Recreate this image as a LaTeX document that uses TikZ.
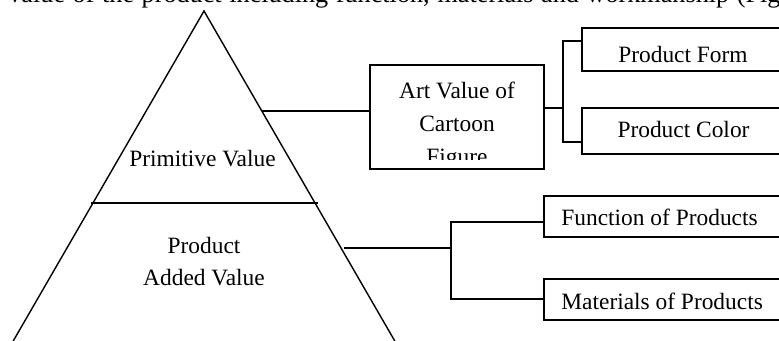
\documentclass[tikz,border=0pt]{standalone}
\usepackage{fontspec}
\setmainfont{Liberation Serif}
\usepackage{tikz}
\usetikzlibrary{positioning}

\tikzset{
  txt/.style={inner sep=0pt, font=\fontsize{11.7}{14}\selectfont},
  boxnode/.style={draw, line width=0.7pt, inner sep=0pt, outer sep=0pt},
  link/.style={line width=0.7pt}
}

\begin{document}
\begin{tikzpicture}[x=0.5pt, y=-0.5pt]
        \useasboundingbox (0,0) rectangle (779,341);
        \clip (0,0) rectangle (779,341);
        % cut-off line of the running text above
        \node[txt, font=\fontsize{13.1}{15}\selectfont, anchor=base west] (toptext) at (8,3) {\makebox[386pt][s]{value of the product including function, materials and workmanship (Fig}};
        % pyramid
        \coordinate (apex) at (204,11);
        \coordinate (botL) at (8,350);
        \coordinate (botR) at (400,350);
        \draw[link] (botL) -- (apex) -- (botR);
        \coordinate (divL) at (91,203);
        \coordinate (divR) at (318,203);
        \draw[link] (divL) -- (divR);
        \node[txt, anchor=base] (prim) at (202.5,167) {Primitive Value};
        \node[txt, anchor=base] (prod1) at (204,253) {Product};
        \node[txt, anchor=base] (prod2) at (204,285) {Added Value};
        % upper branch
        \node[boxnode, minimum width=87pt, minimum height=52pt] (art) at (457,117) {};
        \begin{scope}
          \clip (370,65) rectangle (544,160);
          \node[txt, anchor=base] (art1) at (457,99) {Art Value of};
          \node[txt, anchor=base] (art2) at (457,132) {Cartoon};
          \node[txt, anchor=base] (art3) at (457,165) {Figure};
        \end{scope}
        \node[boxnode, minimum width=104pt, minimum height=21.5pt] (form) at (686,49.5) {};
        \node[txt, anchor=base] (formtxt) at (683,63) {Product Form};
        \node[boxnode, minimum width=104pt, minimum height=23pt] (color) at (686,131) {};
        \node[txt, anchor=base] (colortxt) at (683.5,138) {Product Color};
        \coordinate (pu) at (262,111);
        \coordinate (fu) at (563,108);
        \coordinate (ft) at (563,41);
        \coordinate (fb) at (563,142);
        \draw[link] (pu) -- (pu -| art.west);
        \draw[link] (art.east |- fu) -- (fu);
        \draw[link] (form.west |- ft) -- (ft) -- (fb) -- (fb -| color.west);
        % lower branch
        \node[boxnode, minimum width=123pt, minimum height=20.5pt] (func) at (667,216.5) {};
        \node[txt, anchor=base west] (functxt) at (561,226) {Function of Products};
        \node[boxnode, minimum width=123pt, minimum height=20.5pt] (mat) at (667,299.5) {};
        \node[txt, anchor=base west] (mattxt) at (561,309) {Materials of Products};
        \coordinate (pl) at (344,248);
        \coordinate (fl) at (451,248);
        \coordinate (gt) at (451,222);
        \coordinate (gb) at (451,299);
        \draw[link] (pl) -- (fl);
        \draw[link] (func.west |- gt) -- (gt) -- (gb) -- (gb -| mat.west);
      \end{tikzpicture}
\end{document}
